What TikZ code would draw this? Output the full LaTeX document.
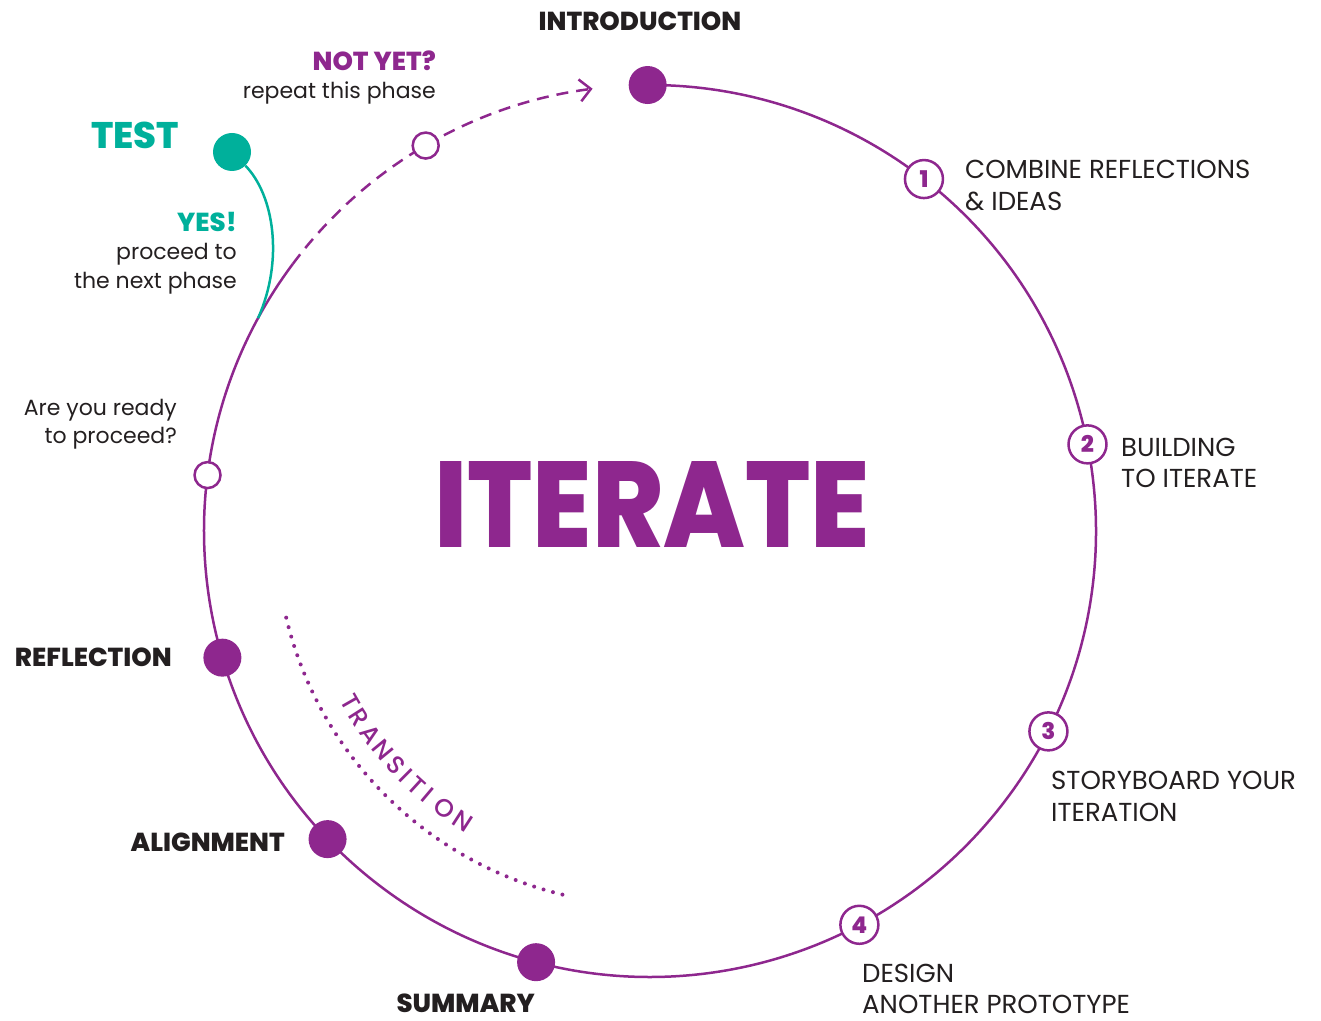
\documentclass[tikz,border=0pt]{standalone}
\usepackage{fontspec}
\setmainfont{Poppins}
\IfFontExistsTF{Poppins ExtraBold}{\newfontfamily\heavyfont{Poppins ExtraBold}}{\newfontfamily\heavyfont{Poppins Bold}}
\IfFontExistsTF{Poppins Medium}{\newfontfamily\medfont{Poppins Medium}}{\newfontfamily\medfont[FakeBold=0.7]{Poppins}}
\usetikzlibrary{calc,arrows.meta}
\definecolor{pur}{HTML}{8E278E}
\definecolor{tl}{HTML}{00B09B}
\definecolor{ink}{HTML}{231F20}
\begin{document}
\begin{tikzpicture}[x=1pt,y=1pt,
  ring/.style={pur, line width=2.5pt},
  bigdot/.style={circle, fill=pur, minimum size=38pt, inner sep=0pt},
  numdot/.style={circle, draw=pur, line width=2.5pt, fill=white, minimum size=38pt, inner sep=0pt, text=pur, font=\fontsize{23}{23}\selectfont\heavyfont},
  opendot/.style={circle, draw=pur, line width=2.5pt, fill=white, minimum size=26pt, inner sep=0pt},
  heavy/.style={inner sep=0pt, text=ink, text depth=0pt, font=\fontsize{26}{26}\selectfont\heavyfont},
  plain/.style={inner sep=0pt, text=ink, text depth=0pt, font=\fontsize{26}{26}\selectfont},
  note/.style={inner sep=0pt, text=ink, font=\fontsize{22}{22}\selectfont},
  trans/.style={inner sep=0pt, text=pur, text height=18pt, text depth=0pt, font=\fontsize{25}{25}\selectfont\medfont},
]
\useasboundingbox (0,0) rectangle (1321,1020);
\coordinate (C) at (650,489);
\coordinate (dashstart) at ($(C)+(143.2:446)$);
\coordinate (tealend) at ($(C)+(151.5:446)$);
\coordinate (trA) at ($(C)+(193.4:374)$);
% ring
\draw[ring] (dashstart) arc[start angle=143.2, end angle=450.3, radius=446];
\draw[ring, dash pattern=on 12pt off 8pt, -{Straight Barb[length=11pt, width=22pt]}] (dashstart) arc[start angle=143.2, end angle=97.4, radius=446];
% transition dotted arc
\draw[pur, line width=4pt, line cap=round, dash pattern=on 0pt off 9.8pt] (trA) arc[start angle=193.4, end angle=256.8, radius=374];
\foreach \l/\a [count=\i] in {T/209.7, R/212.6, A/216.0, N/219.4, S/222.6, I/225.1, T/227.5, I/229.8, O/233.4, N/237.1} {
  \node[trans, rotate=\a+90] (tr\i) at ($(C)+(\a:345)$) {\l};
}
% teal
\node[circle, fill=tl, minimum size=38pt, inner sep=0pt] (testdot) at (232,868) {};
\draw[tl, line width=2.5pt] (testdot) .. controls (274,825) and (284,760) .. (tealend);
% dots
\node[bigdot] (intro) at ($(C)+(90.3:446)$) {};
\node[numdot] (n1) at ($(C)+(52.1:446)$) {1};
\node[numdot] (n2) at ($(C)+(11.2:446)$) {2};
\node[numdot] (n3) at ($(C)+(-26.7:446)$) {3};
\node[numdot] (n4) at ($(C)+(-62.0:446)$) {4};
\node[bigdot] (summ) at ($(C)+(255.2:446)$) {};
\node[bigdot] (align) at ($(C)+(223.7:446)$) {};
\node[bigdot] (refl) at ($(C)+(196.5:446)$) {};
\node[opendot] (ready) at ($(C)+(172.8:446)$) {};
\node[opendot] (notyet) at ($(C)+(120.2:446)$) {};
% texts
\node[heavy, anchor=base] (tintro) at (640,989) {INTRODUCTION};
\node[heavy, anchor=base east, text=pur] (tnot) at (436,949) {NOT YET?};
\node[note, anchor=base east] (trep) at (436,921) {repeat this phase};
\node[heavy, anchor=base west, text=tl, font=\fontsize{37}{37}\selectfont\heavyfont] (ttest) at (91,871) {TEST};
\node[heavy, anchor=base east, text=tl] (tyes) at (237,788) {YES!};
\node[note, anchor=base east] (tpro1) at (237,760) {proceed to};
\node[note, anchor=base east] (tpro2) at (237,731) {the next phase};
\node[note, anchor=base east] (tready1) at (177,604) {Are you ready};
\node[note, anchor=base east] (tready2) at (177,576) {to proceed?};
\node[heavy, anchor=base east] (trefl) at (172,353) {REFLECTION};
\node[heavy, anchor=base east] (talign) at (285,169) {ALIGNMENT};
\node[heavy, anchor=base east] (tsumm) at (535,8) {SUMMARY};
\node[plain, anchor=base west] (t4a) at (862,38) {DESIGN};
\node[plain, anchor=base west] (t4b) at (862,7) {ANOTHER PROTOTYPE};
\node[plain, anchor=base west] (t3a) at (1051,231) {STORYBOARD YOUR};
\node[plain, anchor=base west] (t3b) at (1051,199) {ITERATION};
\node[plain, anchor=base west] (t2a) at (1121,563) {BUILDING};
\node[plain, anchor=base west] (t2b) at (1121,532) {TO ITERATE};
\node[plain, anchor=base west] (t1a) at (965,841) {COMBINE REFLECTIONS};
\node[plain, anchor=base west] (t1b) at (965,809) {\& IDEAS};
\node[inner sep=0pt, anchor=base, text=pur, font=\fontsize{123}{123}\selectfont\heavyfont] (titer) at (652,472) {\resizebox{436pt}{86pt}{ITERATE}};
\end{tikzpicture}
\end{document}
